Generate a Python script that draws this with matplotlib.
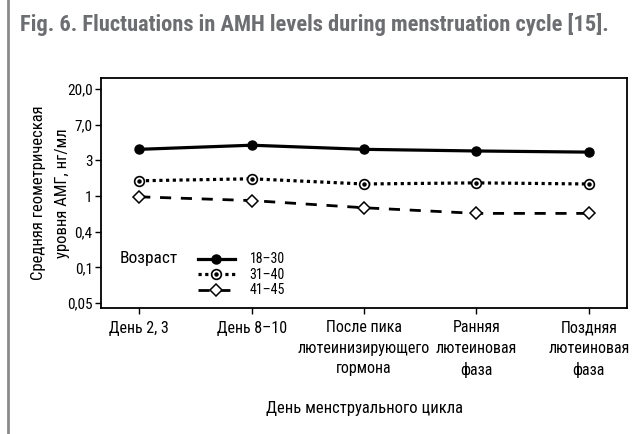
import numpy as np
import matplotlib
matplotlib.use('Agg')
import matplotlib.pyplot as plt
from matplotlib.lines import Line2D
from matplotlib.legend_handler import HandlerTuple
from matplotlib import font_manager

names = {f.name for f in font_manager.fontManager.ttflist}
narrow = 'Liberation Sans'
for cand in ['Liberation Sans Narrow', 'Roboto Condensed', 'DejaVu Sans Condensed',
             'Open Sans Condensed', 'Noto Sans Condensed', 'Arial Narrow']:
    if cand in names:
        narrow = cand
        break
plt.rcParams['font.family'] = [narrow, 'DejaVu Sans']

phases = ['День 2, 3', 'День 8\u201310', 'После пика\nлютеинизирующего\nгормона',
          'Ранняя\nлютеиновая\nфаза', 'Поздняя\nлютеиновая\nфаза']
ytick_vals = [0.05, 0.1, 0.4, 1, 3, 7.0, 20.0]
ytick_labels = ['0,05', '0,1', '0,4', '1', '3', '7,0', '20,0']

age_groups = ['18\u201330', '31\u201340', '41\u201345']
amh_18_30 = [3.9, 4.3, 3.9, 3.75, 3.65]
amh_31_40 = [1.6, 1.7, 1.45, 1.5, 1.45]
amh_41_45 = [0.98, 0.89, 0.74, 0.64, 0.64]

# the original axis has evenly spaced ticks, log-interpolated in between
logt = np.log10(ytick_vals)
idx = np.arange(len(ytick_vals), dtype=float)

def fwd(v):
    lv = np.log10(np.clip(np.asarray(v, dtype=float), 1e-6, None))
    out = np.interp(lv, logt, idx)
    out = np.where(lv < logt[0], (lv - logt[0]) / (logt[1] - logt[0]), out)
    out = np.where(lv > logt[-1], idx[-1] + (lv - logt[-1]) / (logt[-1] - logt[-2]), out)
    return out

def inv(p):
    p = np.asarray(p, dtype=float)
    lv = np.interp(p, idx, logt)
    lv = np.where(p < 0, logt[0] + p * (logt[1] - logt[0]), lv)
    lv = np.where(p > idx[-1], logt[-1] + (p - idx[-1]) * (logt[-1] - logt[-2]), lv)
    return 10 ** lv

fig = plt.figure(figsize=(6.4, 4.34), dpi=100)
ax = fig.add_axes([101 / 640, 1 - 308 / 434, 526 / 640, 230 / 434])
ax.set_yscale('function', functions=(fwd, inv))

x = np.arange(len(phases))
l1, = ax.plot(x, amh_18_30, color='black', lw=2.3, marker='o', ms=6.5,
              mfc='black', mec='black')
l2, = ax.plot(x, amh_31_40, color='black', lw=2.3, ls=(0, (1, 1.1)), marker='o',
              ms=7, mfc='white', mec='black', mew=1.2)
d2, = ax.plot(x, amh_31_40, ls='none', marker='o', ms=2.2, color='black')
l3, = ax.plot(x, amh_41_45, color='black', lw=2, ls=(0, (4, 3.5)), marker='D',
              ms=6, mfc='white', mec='black', mew=1.1)

ax.set_xlim(-0.34, 4.34)
ax.set_ylim(inv(-0.14), inv(6.31))
ax.set_xticks(x)
ax.set_xticklabels(phases, fontsize=11.5, linespacing=1.45)
ax.set_yticks(ytick_vals)
ax.set_yticklabels(ytick_labels, fontsize=11)
ax.yaxis.set_minor_locator(matplotlib.ticker.NullLocator())
ax.tick_params(length=4, width=1, pad=2)
ax.tick_params(axis='x', pad=5)
for s in ax.spines.values():
    s.set_linewidth(1.3)

ax.set_xlabel('День менструального цикла', fontsize=12, labelpad=17)
ax.set_ylabel('Средняя геометрическая\nуровня АМГ, нг/мл', fontsize=12,
              labelpad=-2, linespacing=1.75)

ax.text(0.036, 0.217, 'Возраст', transform=ax.transAxes, fontsize=12.5,
        va='center', ha='left')
ax.legend([l1, (l2, d2), l3], age_groups,
          handler_map={tuple: HandlerTuple(ndivide=1)},
          loc='upper left', bbox_to_anchor=(0.172, 0.272), frameon=False,
          fontsize=10, handlelength=2.6, labelspacing=0.1, handletextpad=1.1,
          borderpad=0, handleheight=0.6)

fig.text(20 / 640, 1 - 24 / 434,
         'Fig. 6. Fluctuations in AMH levels during menstruation cycle [15].',
         fontsize=16.2, fontweight='bold', color='#6d6e71', va='center')
fig.add_artist(Line2D([7.5 / 640, 7.5 / 640], [0, 1], transform=fig.transFigure,
                      color='#8a8a8a', lw=2))

fig.savefig('out.png', dpi=100)
